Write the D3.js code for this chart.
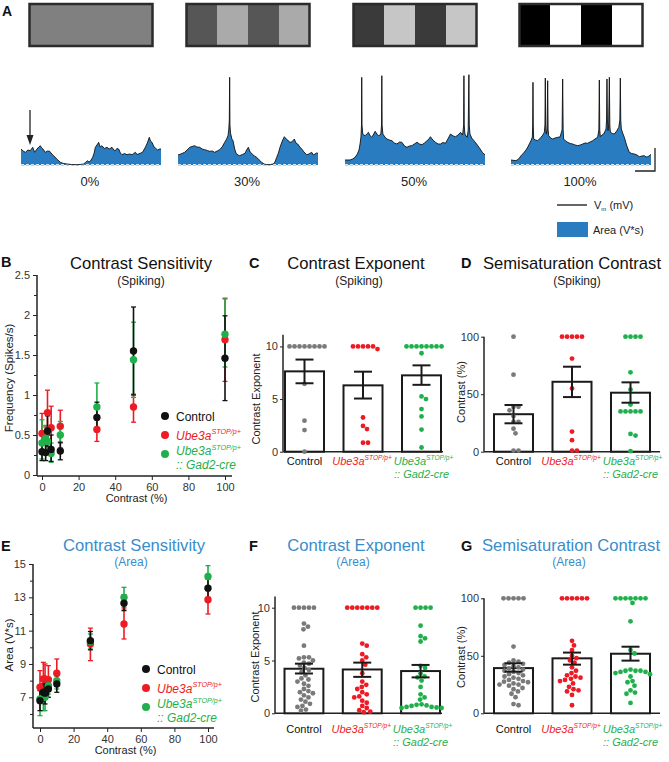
<!DOCTYPE html>
<html><head><meta charset="utf-8">
<script src="https://cdn.jsdelivr.net/npm/d3@7/dist/d3.min.js"></script>
<style>
body{margin:0;background:#fff;}
svg{display:block;font-family:"Liberation Sans",Arial,Helvetica,sans-serif;}
</style></head><body>
<script>
// ---------------- DATA ----------------
const gratingContrasts = [0, 30, 50, 100];
const gratingLabels = ["0%", "30%", "50%", "100%"];
// membrane potential traces: [time (ms), Vm above baseline (mV)]
const trace0 = [[0,16],[30,14],[62,12.7],[100,15],[133,14.3],[167,17.7],[195,12.7],[229,16],[255,18],[276,19.3],[295,17],[314,16],[348,12.7],[380,14],[410,13.7],[440,11],[467,9.3],[510,6],[562,2.7],[610,1.5],[657,1],[720,0.5],[800,0.3],[850,0.6],[895,1],[920,2.5],[952,4.3],[970,3],[990,3.7],[1024,7.7],[1045,12],[1062,17.7],[1085,20],[1110,22.7],[1130,18],[1157,19.3],[1190,16.5],[1229,17.7],[1260,16],[1300,17.7],[1325,15],[1348,14.3],[1370,16.5],[1395,16],[1420,12],[1443,10.3],[1480,11.5],[1514,10.3],[1550,11],[1586,10.3],[1610,11.5],[1633,12.7],[1660,10.5],[1705,11.7],[1740,13],[1776,17.7],[1805,22],[1833,27.7],[1850,24],[1871,22.7],[1900,18],[1919,17],[1950,15],[1981,16],[2000,16]];
const trace30 = [[0,10],[40,11],[95,12.7],[130,15],[167,17.7],[200,18.5],[238,19.3],[270,18],[310,17.7],[345,16],[381,15.3],[420,14.5],[452,13.7],[490,14],[524,12.7],[560,14],[595,15.3],[630,18],[667,22.7],[695,26],[714,29.3],[725,35],[733,45],[738,87.7],[742,40],[750,32],[770,26],[786,24.3],[810,16],[833,11],[860,10],[881,9.3],[920,10.5],[957,11.7],[980,15],[1005,17.7],[1030,13],[1052,11.7],[1090,9],[1124,7.7],[1160,5],[1195,2.7],[1230,1],[1267,0.3],[1320,0.5],[1362,1],[1385,3],[1410,7.7],[1435,12],[1457,17.7],[1490,24],[1519,28.3],[1545,26],[1567,25],[1590,23],[1614,22.7],[1640,24],[1662,26],[1685,22],[1710,21],[1740,18],[1767,16],[1800,13],[1838,10.3],[1870,11],[1910,12.7],[1935,10],[1957,11],[1980,12],[2000,11.7]];
const trace50 = [[0,5],[72,5],[110,6],[144,7.7],[177,11],[200,15],[215,21],[228,28],[236,40],[239,87.7],[243,40],[254,31],[270,30],[287,29.3],[310,31],[335,32.7],[360,29],[383,27.7],[410,31],[431,33.7],[455,31],[478,29.3],[500,30],[512,31],[522,40],[526,89.3],[530,40],[541,31],[570,28],[598,26],[635,25],[670,24.3],[705,22],[742,21],[780,23],[813,22.7],[850,19],[885,17.7],[920,19],[957,19.3],[990,21],[1029,22.7],[1065,21],[1100,20.3],[1135,22],[1172,24.3],[1200,26],[1220,28.3],[1255,25],[1292,22.7],[1330,21],[1364,21],[1400,22.5],[1435,21.7],[1470,26],[1507,31],[1545,29],[1579,28.3],[1615,30],[1651,32.7],[1680,30],[1695,40],[1699,89.3],[1703,40],[1713,31],[1730,29],[1746,27.7],[1760,35],[1770,90.3],[1775,40],[1785,31],[1810,27],[1842,24.3],[1880,21],[1914,17.7],[1940,15],[1962,12.7],[1985,11],[2000,10.3]];
const trace100 = [[0,5],[71,4.3],[110,6],[143,9.3],[180,12],[214,15],[240,18],[262,21],[290,25],[305,28],[310,40],[314,82.7],[318,40],[324,26],[350,25],[381,24.3],[405,26],[429,27.7],[455,30],[476,32.7],[485,40],[490,87],[495,40],[505,31],[515,35],[524,84.3],[530,35],[538,29.3],[565,27],[595,26],[630,27],[667,27.7],[700,28],[730,35],[738,86],[745,35],[752,26],[780,24],[810,22.7],[845,21.5],[881,21],[915,20],[952,19.3],[990,20],[1024,21],[1060,22],[1095,21.7],[1130,23],[1167,24.3],[1200,26],[1238,27.7],[1255,35],[1262,85],[1268,35],[1276,28.3],[1300,30],[1324,31],[1345,34],[1357,36],[1365,45],[1371,86],[1377,45],[1386,34.3],[1395,40],[1405,87.7],[1412,40],[1419,32.7],[1450,31.5],[1476,31],[1510,34],[1540,37.7],[1555,45],[1562,87],[1568,45],[1576,36],[1600,31],[1619,27.7],[1650,20],[1690,12.7],[1725,11.5],[1762,11],[1800,10],[1833,8.3],[1870,9],[1905,9.3],[1930,8],[1952,8.3],[1975,9],[1990,10.3],[2000,10.3]];

const contrasts = [0, 2, 3, 5, 10, 30, 50, 100];
// B: spiking frequency (Spikes/s)
const spikeCtrlMean = [0.29,0.28,0.55,0.32,0.30,0.72,1.55,1.46];
const spikeCtrlLo   = [0.18,0.18,0.36,0.17,0.19,0.57,1.00,0.93];
const spikeCtrlHi   = [0.42,0.40,0.74,0.50,0.41,0.91,2.10,1.99];
const spikeUbeMean  = [0.52,0.42,0.78,0.59,0.61,0.57,0.85,1.69];
const spikeUbeLo    = [0.37,0.28,0.50,0.33,0.40,0.42,0.66,1.17];
const spikeUbeHi    = [0.77,0.60,1.06,0.86,0.81,0.72,1.01,2.21];
const spikeGadMean  = [0.40,0.46,0.42,0.27,0.50,0.85,1.44,1.76];
const spikeGadLo    = [0.20,0.30,0.28,0.16,0.34,0.55,0.97,1.35];
const spikeGadHi    = [0.69,0.62,0.58,0.40,0.67,1.15,1.91,2.20];
// E: area (V*s)
const areaCtrlMean = [6.8,7.3,7.25,7.5,7.8,10.4,12.65,13.55];
const areaCtrlLo   = [6.2,6.8,6.6,7.0,7.3,9.85,12.2,13.0];
const areaCtrlHi   = [7.4,7.8,7.9,8.0,8.3,10.95,13.15,14.1];
const areaUbeMean  = [7.6,8.1,8.1,8.05,8.45,10.2,11.4,12.85];
const areaUbeLo    = [6.7,7.2,7.3,7.4,8.0,9.2,10.5,12.0];
const areaUbeHi    = [8.6,9.1,9.0,8.9,9.3,11.15,12.3,13.6];
const areaGadMean  = [6.9,7.0,7.0,7.7,8.0,10.35,13.0,14.25];
const areaGadLo    = [5.9,6.2,6.2,7.2,7.5,9.9,12.4,13.6];
const areaGadHi    = [7.6,7.6,7.8,8.2,8.3,10.8,13.6,14.9];

const groups = ["Control", "Ube3a", "Gad2"];
// C: contrast exponent (spiking)
const expSpikeCtrl = [10,10,10,10,10,10,10,10,6.45,2.95,2.05,0];
const expSpikeUbe  = [10,10,10,9.75,10,10,3.25,2.45,2.15,0.85,0.85];
const expSpikeGad  = [10,10,10,10,10,10,10,10,9.35,5.25,5.0,4.05,3.35,2.1,0.4];
const expSpikeMean = [7.63,6.3,7.25];
const expSpikeLo   = [6.5,5.05,6.35];
const expSpikeHi   = [8.75,7.6,8.2];
// D: semisaturation contrast (spiking)
const semiSpikeCtrl = [100,67,39,39,36,31,26,26,20,16,1,1];
const semiSpikeUbe  = [100,100,100,100,100,81,55,17.5,10,1,1];
const semiSpikeGad  = [100,100,100,100,69,54,41,35,35,35,35,35,15.5,14,0.5];
const semiSpikeMean = [32.6,60.8,51.3];
const semiSpikeLo   = [24.7,47.5,42.6];
const semiSpikeHi   = [40.6,73.9,60.3];
// F: contrast exponent (area)
const expAreaCtrl = [10,10,10,10,10,8.5,8.2,7.95,6.4,5.3,5.3,5.2,5.0,4.8,4.7,4.5,4.3,4.1,3.9,3.6,3.3,3.2,3.0,2.8,2.6,2.3,2.1,2.0,1.9,1.7,1.5,1.3,1.1,0.9,0.7,0.6,0.35,0.25];
const expAreaUbe  = [10,10,10,10,10,10,10,6.6,6.4,5.6,5.3,5.0,4.6,3.8,3.0,2.7,2.5,2.3,2.0,1.8,1.6,1.5,1.2,1.0,0.7,0.5,0.3,0.15,0.1];
const expAreaGad  = [10,10,10,10,8.3,7.3,7.1,6.8,4.5,4.3,3.8,3.5,3.4,3.1,2.5,1.8,1.5,1.3,0.85,0.75,0.7,0.6,0.5,0.5,0.55,0.6,0.8];
const expAreaMean = [4.22,4.15,4.0];
const expAreaLo   = [3.77,3.45,3.4];
const expAreaHi   = [4.7,4.8,4.58];
// G: semisaturation contrast (area)
const semiAreaCtrl = [100,100,100,100,100,58,46,45,44,43,42,41,40,39,38,37,36,35,34,33,32,31,30,29,28,27.5,27,26,25,25,24,22,21,19,17,14,8,7];
const semiAreaUbe  = [100,100,100,100,100,100,63,59,55,50,48,46,44,40,37,35,33,32,31,30,29,28,26,23,21,20,19,16,7];
const semiAreaGad  = [100,100,100,100,100,100,100,96,80,55,52,38,37,37,37,36,36,35,34,32,28,27,24,20,18,17,9];
const semiAreaMean = [39.3,47.8,51.8];
const semiAreaLo   = [36.2,42.3,45.8];
const semiAreaHi   = [43.5,52.8,57.9];

// ---------------- STYLE ----------------
const C_CTRL = "#111111", C_UBE = "#ed1c24", C_GAD = "#1fb04b", C_DOT = "#7a7a7a";
const C_FILL = "#2a7cc1", C_TITLE = "#3a8dca";
const svg = d3.select("body").append("svg").attr("width", 669).attr("height", 762);

function txt(x, y, s, o = {}) {
  const t = svg.append("text").attr("x", x).attr("y", y).text(s)
    .attr("font-size", o.size || 11).attr("fill", o.color || "#222")
    .attr("text-anchor", o.anchor || "start");
  if (o.bold) t.attr("font-weight", "bold");
  if (o.italic) t.attr("font-style", "italic");
  return t;
}
function ubeText(x, y, color, size, anchor) {
  const t = svg.append("text").attr("x", x).attr("y", y).attr("fill", color)
    .attr("font-size", size).attr("font-style", "italic").attr("text-anchor", anchor || "start");
  t.append("tspan").text("Ube3a");
  t.append("tspan").text("STOP/p+").attr("font-size", size * 0.6).attr("dy", -size * 0.42);
  return t;
}

// ---------------- PANEL A ----------------
txt(2, 16, "A", {size: 14, bold: true, color: "#111"});
const aCenters = [91, 248, 415, 581];
gratingContrasts.forEach((c, i) => {
  const bx = d3.scaleLinear().domain([0, 4]).range([aCenters[i] - 61.5, aCenters[i] + 61.5]);
  const amp = Math.min(128, 1.408 * c);
  const dark = Math.max(0, Math.round(128 - amp)), light = Math.min(255, Math.round(128 + amp));
  d3.range(4).forEach(k => {
    const v = k % 2 ? light : dark;
    svg.append("rect").attr("x", Math.round(bx(k))).attr("y", 4)
      .attr("width", Math.round(bx(k + 1)) - Math.round(bx(k))).attr("height", 42)
      .attr("fill", d3.rgb(v, v, v)).attr("shape-rendering", "crispEdges");
  });
  svg.append("rect").attr("x", bx(0)).attr("y", 4).attr("width", bx(4) - bx(0)).attr("height", 42)
    .attr("fill", "none").attr("stroke", "#2b2b2b").attr("stroke-width", 2.5);
});
const traces = [trace0, trace30, trace50, trace100];
const tY = d3.scaleLinear().domain([0, 90]).range([165, 75]);
traces.forEach((tr, i) => {
  const tX = d3.scaleLinear().domain([0, 2000]).range([aCenters[i] - 70, aCenters[i] + 70]);
  svg.append("path").datum(tr).attr("fill", C_FILL)
    .attr("d", d3.area().x(d => tX(d[0])).y0(tY(0)).y1(d => tY(d[1])));
  svg.append("line").attr("x1", tX(0)).attr("x2", tX(2000)).attr("y1", tY(0)).attr("y2", tY(0))
    .attr("stroke", "#666").attr("stroke-width", 0.8).attr("stroke-dasharray", "3,2");
  svg.append("line").attr("x1", tX(0)).attr("x2", tX(2000)).attr("y1", tY(0) - 0.3).attr("y2", tY(0) - 0.3)
    .attr("stroke", "#fff").attr("stroke-width", 1).attr("stroke-dasharray", "3,2");
  svg.append("path").datum(tr).attr("fill", "none").attr("stroke", "#111").attr("stroke-width", 0.9)
    .attr("d", d3.line().x(d => tX(d[0])).y(d => tY(d[1])));
  txt(aCenters[i] - 1, 186, gratingLabels[i], {size: 13, anchor: "middle", color: "#222"});
});
// arrow on first trace
svg.append("line").attr("x1", 30).attr("x2", 30).attr("y1", 110).attr("y2", 138).attr("stroke", "#222").attr("stroke-width", 1.3);
svg.append("path").attr("d", "M26.5,135 L30,145 L33.5,135 Z").attr("fill", "#222");
// scale bar
svg.append("path").attr("d", "M635,171 L655,171 L655,148").attr("fill", "none").attr("stroke", "#222").attr("stroke-width", 1.3);
// legend A
svg.append("line").attr("x1", 557).attr("x2", 587).attr("y1", 205).attr("y2", 205).attr("stroke", "#333").attr("stroke-width", 1.5);
{
  const t = svg.append("text").attr("x", 594).attr("y", 209).attr("font-size", 11).attr("fill", "#222");
  t.append("tspan").text("V");
  t.append("tspan").text("m").attr("font-size", 6).attr("dy", 2);
  t.append("tspan").text(" (mV)").attr("dy", -2);
}
svg.append("rect").attr("x", 557).attr("y", 222).attr("width", 31).attr("height", 15).attr("fill", C_FILL);
txt(593, 234, "Area (V*s)", {size: 11});

// ---------------- SCATTER PANELS ----------------
function styleAxis(g) {
  g.selectAll("line").attr("stroke", "#222");
  g.selectAll("text").attr("fill", "#333").attr("font-size", 11).attr("font-family", "Liberation Sans, Arial, sans-serif");
  g.select(".domain").remove();
}
function scatterPanel(o) {
  const g = svg.append("g");
  g.append("g").attr("transform", `translate(${o.axisX},0)`)
    .call(d3.axisLeft(o.y).tickValues(o.yMajor).tickSize(4).tickPadding(3).tickFormat(d3.format("")))
    .call(styleAxis);
  g.append("g").attr("transform", `translate(${o.axisX},0)`)
    .call(d3.axisLeft(o.y).tickValues(o.yMinor).tickSize(3).tickFormat(""))
    .call(styleAxis);
  g.append("line").attr("x1", o.axisX).attr("x2", o.axisX).attr("y1", o.yTop).attr("y2", o.xAxisY).attr("stroke", "#222").attr("stroke-width", 1.5);
  g.append("g").attr("transform", `translate(0,${o.xAxisY})`)
    .call(d3.axisBottom(o.x).tickValues([0, 20, 40, 60, 80, 100]).tickSize(4).tickPadding(3))
    .call(styleAxis);
  g.append("line").attr("x1", o.axisX).attr("x2", o.xEnd).attr("y1", o.xAxisY).attr("y2", o.xAxisY).attr("stroke", "#222").attr("stroke-width", 1.5);
  txt((o.axisX + o.xEnd) / 2 + 2, o.xAxisY + 26, "Contrast (%)", {size: 11, anchor: "middle"});
  svg.append("text").attr("transform", `translate(${o.yLabelX},${o.yLabelY}) rotate(-90)`)
    .attr("text-anchor", "middle").attr("font-size", 11.5).attr("fill", "#222").text(o.yLabel);
  o.series.forEach(s => {
    contrasts.forEach((c, i) => {
      const x = o.x(c);
      g.append("line").attr("x1", x).attr("x2", x).attr("y1", o.y(s.lo[i])).attr("y2", o.y(s.hi[i]))
        .attr("stroke", s.color).attr("stroke-width", 1.6);
      [s.lo[i], s.hi[i]].forEach(v => g.append("line").attr("x1", x - 2.5).attr("x2", x + 2.5)
        .attr("y1", o.y(v)).attr("y2", o.y(v)).attr("stroke", s.color).attr("stroke-width", 1.3));
    });
  });
  o.series.forEach(s => {
    g.selectAll(null).data(s.mean).enter().append("circle")
      .attr("cx", (d, i) => o.x(contrasts[i])).attr("cy", d => o.y(d)).attr("r", 3.7).attr("fill", s.color);
  });
  const lg = [C_CTRL, C_UBE, C_GAD];
  lg.forEach((col, k) => {
    svg.append("circle").attr("cx", o.legX).attr("cy", o.legY + k * 19).attr("r", 4).attr("fill", col);
  });
  txt(o.legX + 11, o.legY + 4.5, "Control", {size: 12, color: "#111"});
  ubeText(o.legX + 11, o.legY + 19 + 4.5, C_UBE, 12);
  ubeText(o.legX + 11, o.legY + 38 + 1, C_GAD, 12);
  txt(o.legX + 11, o.legY + 38 + 15, ":: Gad2-cre", {size: 12, color: C_GAD, italic: true});
}

// Panel B
txt(1, 267, "B", {size: 14.5, bold: true, color: "#111"});
txt(141, 269, "Contrast Sensitivity", {size: 16.6, anchor: "middle", color: "#111"});
txt(141, 285, "(Spiking)", {size: 12, anchor: "middle", color: "#222"});
scatterPanel({
  x: d3.scaleLinear().domain([0, 100]).range([42, 225]),
  y: d3.scaleLinear().domain([0, 2.5]).range([475, 275]),
  axisX: 37, yTop: 275, xAxisY: 476, xEnd: 232,
  yMajor: [0, 0.5, 1, 1.5, 2, 2.5], yMinor: [0.25, 0.75, 1.25, 1.75, 2.25],
  yLabel: "Frequency (Spikes/s)", yLabelX: 13, yLabelY: 378,
  legX: 165, legY: 416,
  series: [
    {mean: spikeUbeMean, lo: spikeUbeLo, hi: spikeUbeHi, color: C_UBE},
    {mean: spikeGadMean, lo: spikeGadLo, hi: spikeGadHi, color: C_GAD},
    {mean: spikeCtrlMean, lo: spikeCtrlLo, hi: spikeCtrlHi, color: C_CTRL}
  ]
});

// Panel E
txt(1, 551, "E", {size: 14.5, bold: true, color: "#111"});
txt(134, 551, "Contrast Sensitivity", {size: 16.6, anchor: "middle", color: C_TITLE});
txt(131, 566, "(Area)", {size: 12, anchor: "middle", color: C_TITLE});
scatterPanel({
  x: d3.scaleLinear().domain([0, 100]).range([40, 208]),
  y: d3.scaleLinear().domain([7, 15]).range([697.3, 564]),
  axisX: 33, yTop: 564, xAxisY: 728, xEnd: 214,
  yMajor: [7, 9, 11, 13, 15], yMinor: [6, 8, 10, 12, 14],
  yLabel: "Area (V*s)", yLabelX: 13, yLabelY: 645,
  legX: 146, legY: 669,
  series: [
    {mean: areaUbeMean, lo: areaUbeLo, hi: areaUbeHi, color: C_UBE},
    {mean: areaGadMean, lo: areaGadLo, hi: areaGadHi, color: C_GAD},
    {mean: areaCtrlMean, lo: areaCtrlLo, hi: areaCtrlHi, color: C_CTRL}
  ]
});

// ---------------- BAR PANELS ----------------
function swarm(values, y, cx, d) {
  const pts = values.map(v => ({v, y: y(v)})).sort((a, b) => a.y - b.y);
  const placed = [];
  pts.forEach(p => {
    for (let k = 0; k < 400; k++) {
      const off = k === 0 ? 0 : (k % 2 ? Math.ceil(k / 2) : -Math.ceil(k / 2)) * 0.5;
      const x = cx + off;
      if (placed.every(q => (q.x - x) ** 2 + (q.y - p.y) ** 2 >= d * d * 0.98)) { p.x = x; placed.push(p); break; }
    }
  });
  return placed;
}
function barPanel(o) {
  const g = svg.append("g");
  const xb = d3.scaleBand().domain(groups).range(o.band).paddingInner(1 / 3).paddingOuter(0);
  g.append("g").attr("transform", `translate(${o.axisX},0)`)
    .call(d3.axisLeft(o.y).tickValues(o.yTicks).tickSize(3).tickPadding(2).tickFormat(d3.format("")))
    .call(styleAxis);
  g.append("line").attr("x1", o.axisX).attr("x2", o.axisX).attr("y1", o.y(o.yTopVal)).attr("y2", o.y(0))
    .attr("stroke", "#222").attr("stroke-width", 1.5);
  g.append("line").attr("x1", o.axisX).attr("x2", o.xEnd).attr("y1", o.y(0)).attr("y2", o.y(0))
    .attr("stroke", "#222").attr("stroke-width", 1.5);
  svg.append("text").attr("transform", `translate(${o.yLabelX},${o.yLabelY}) rotate(-90)`)
    .attr("text-anchor", "middle").attr("font-size", 11).attr("fill", "#222").text(o.yLabel);
  groups.forEach((gn, i) => {
    g.append("rect").attr("x", xb(gn)).attr("y", o.y(o.mean[i])).attr("width", xb.bandwidth())
      .attr("height", o.y(0) - o.y(o.mean[i])).attr("fill", "#fff").attr("stroke", "#1a1a1a").attr("stroke-width", 2);
  });
  const cols = [C_DOT, C_UBE, C_GAD];
  o.points.forEach((vals, i) => {
    const cx = xb(groups[i]) + xb.bandwidth() / 2;
    const pts = swarm(vals, o.y, cx, 5);
    g.selectAll(null).data(pts).enter().append("circle")
      .attr("cx", d => d.x).attr("cy", d => d.y).attr("r", 2.4).attr("fill", cols[i]);
  });
  groups.forEach((gn, i) => {
    const cx = xb(gn) + xb.bandwidth() / 2;
    g.append("line").attr("x1", cx).attr("x2", cx).attr("y1", o.y(o.lo[i])).attr("y2", o.y(o.hi[i]))
      .attr("stroke", "#1a1a1a").attr("stroke-width", 2);
    [o.lo[i], o.hi[i]].forEach(v => g.append("line").attr("x1", cx - 9).attr("x2", cx + 9)
      .attr("y1", o.y(v)).attr("y2", o.y(v)).attr("stroke", "#1a1a1a").attr("stroke-width", 2));
  });
  const c0 = xb(groups[0]) + xb.bandwidth() / 2, c1 = xb(groups[1]) + xb.bandwidth() / 2, c2 = xb(groups[2]) + xb.bandwidth() / 2;
  txt(c0, o.labelY, "Control", {size: 11, anchor: "middle", color: "#111"});
  ubeText(c1 - 1, o.labelY, C_UBE, 11, "middle");
  ubeText(c2 + 2, o.labelY, C_GAD, 11, "middle");
  txt(c2, o.labelY + 13, ":: Gad2-cre", {size: 11, anchor: "middle", color: C_GAD, italic: true});
}

// Panel C
txt(249, 268, "C", {size: 14.5, bold: true, color: "#111"});
txt(356, 269, "Contrast Exponent", {size: 16.6, anchor: "middle", color: "#111"});
txt(359, 285, "(Spiking)", {size: 12, anchor: "middle", color: "#222"});
barPanel({
  y: d3.scaleLinear().domain([0, 10]).range([451.7, 346.4]), yTicks: [0, 5, 10], yTopVal: 11.1,
  axisX: 283, xEnd: 443, band: [285, 441],
  yLabel: "Contrast Exponent", yLabelX: 260, yLabelY: 399, labelY: 465,
  mean: expSpikeMean, lo: expSpikeLo, hi: expSpikeHi,
  points: [expSpikeCtrl, expSpikeUbe, expSpikeGad]
});
// Panel D
txt(461, 268, "D", {size: 14.5, bold: true, color: "#111"});
txt(572, 269, "Semisaturation Contrast", {size: 16.6, anchor: "middle", color: "#111"});
txt(577, 285, "(Spiking)", {size: 12, anchor: "middle", color: "#222"});
barPanel({
  y: d3.scaleLinear().domain([0, 100]).range([451.7, 336.7]), yTicks: [0, 50, 100], yTopVal: 100,
  axisX: 484, xEnd: 660, band: [494, 650],
  yLabel: "Contrast (%)", yLabelX: 465, yLabelY: 392, labelY: 465,
  mean: semiSpikeMean, lo: semiSpikeLo, hi: semiSpikeHi,
  points: [semiSpikeCtrl, semiSpikeUbe, semiSpikeGad]
});
// Panel F
txt(249, 551, "F", {size: 14.5, bold: true, color: "#111"});
txt(356, 551, "Contrast Exponent", {size: 16.6, anchor: "middle", color: C_TITLE});
txt(353, 566, "(Area)", {size: 12, anchor: "middle", color: C_TITLE});
barPanel({
  y: d3.scaleLinear().domain([0, 10]).range([713.3, 607.7]), yTicks: [0, 5, 10], yTopVal: 11.05,
  axisX: 275, xEnd: 442, band: [284.5, 440],
  yLabel: "Contrast Exponent", yLabelX: 259, yLabelY: 657, labelY: 733,
  mean: expAreaMean, lo: expAreaLo, hi: expAreaHi,
  points: [expAreaCtrl, expAreaUbe, expAreaGad]
});
// Panel G
txt(461, 551, "G", {size: 14.5, bold: true, color: "#111"});
txt(571, 551, "Semisaturation Contrast", {size: 16.6, anchor: "middle", color: C_TITLE});
txt(569, 566, "(Area)", {size: 12, anchor: "middle", color: C_TITLE});
barPanel({
  y: d3.scaleLinear().domain([0, 100]).range([713.3, 598.3]), yTicks: [0, 50, 100], yTopVal: 100,
  axisX: 484, xEnd: 660, band: [494, 650],
  yLabel: "Contrast (%)", yLabelX: 465, yLabelY: 657, labelY: 733,
  mean: semiAreaMean, lo: semiAreaLo, hi: semiAreaHi,
  points: [semiAreaCtrl, semiAreaUbe, semiAreaGad]
});
</script></body></html>
